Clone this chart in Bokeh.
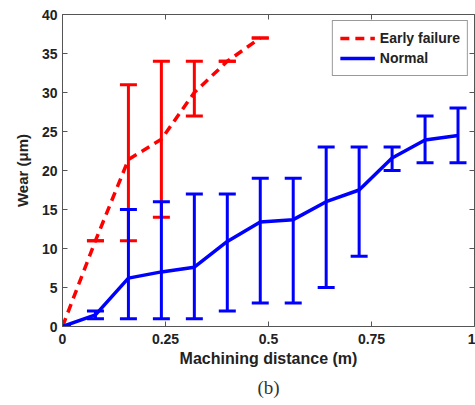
from bokeh.plotting import figure
from bokeh.models import (ColumnDataSource, Whisker, TeeHead, LinearAxis, Range1d,
                          FixedTicker, Legend, LegendItem, Title)
from bokeh.embed import file_html
from bokeh.resources import INLINE

# ---- data ----
early_x = [0, 0.08, 0.16, 0.24, 0.32, 0.40, 0.48]
early_y = [0, 11, 21.4, 24, 30, 34, 37]
early_lo = [0, 11, 11, 14, 27, 34, 37]
early_hi = [0, 11, 31, 34, 34, 34, 37]

normal_x = [0, 0.08, 0.16, 0.24, 0.32, 0.40, 0.48, 0.56, 0.64, 0.72, 0.80, 0.88, 0.96]
normal_y = [0, 1.5, 6.2, 7.0, 7.6, 10.9, 13.4, 13.7, 16.0, 17.5, 21.6, 23.9, 24.5]
normal_lo = [0, 1, 1, 1, 1, 2, 3, 3, 5, 9, 20, 21, 21]
normal_hi = [0, 2, 15, 16, 17, 17, 19, 19, 23, 23, 23, 27, 28]

x_ticks = [0, 0.25, 0.5, 0.75, 1]
x_tick_labels = {0: "0", 0.25: "0.25", 0.5: "0.5", 0.75: "0.75", 1: "1"}
y_ticks = [0, 5, 10, 15, 20, 25, 30, 35, 40]

RED = "#ff0000"
BLUE = "#0000ff"
FONT = "Liberation Sans"

p = figure(width=475, height=405, output_backend="svg", toolbar_location=None,
           x_range=Range1d(0, 1), y_range=Range1d(0, 40),
           min_border_left=62, min_border_right=1, min_border_top=14, min_border_bottom=79)
p.grid.visible = False
p.outline_line_color = None
p.background_fill_color = "white"
p.border_fill_color = "white"

def style_axis(ax):
    ax.major_tick_in = 5
    ax.major_tick_out = 0
    ax.minor_tick_line_color = None
    ax.axis_line_color = "#555555"
    ax.major_tick_line_color = "#555555"
    ax.major_label_text_font = FONT
    ax.major_label_text_font_style = "bold"
    ax.major_label_text_font_size = "14px"
    ax.major_label_text_color = "#222222"

p.xaxis.ticker = FixedTicker(ticks=x_ticks)
p.xaxis.major_label_overrides = x_tick_labels
p.yaxis.ticker = FixedTicker(ticks=y_ticks)
style_axis(p.xaxis[0])
style_axis(p.yaxis[0])
p.xaxis.major_label_standoff = 7
p.yaxis.major_label_standoff = 5
p.xaxis.axis_label = "Machining distance (m)"
p.yaxis.axis_label = "Wear (μm)"
p.xaxis.axis_label_text_font_size = "16px"
p.yaxis.axis_label_text_font_size = "15px"
for ax in (p.xaxis[0], p.yaxis[0]):
    ax.axis_label_text_font = FONT
    ax.axis_label_text_font_style = "bold"
    ax.axis_label_text_color = "#222222"
p.xaxis.axis_label_standoff = 3
p.yaxis.axis_label_standoff = 8

top = LinearAxis(ticker=FixedTicker(ticks=x_ticks))
style_axis(top)
top.major_label_overrides = {t: "" for t in x_ticks}
top.major_label_standoff = 0
right = LinearAxis(ticker=FixedTicker(ticks=y_ticks))
style_axis(right)
right.major_label_overrides = {t: "" for t in y_ticks}
right.major_label_standoff = 0
p.add_layout(top, "above")
p.add_layout(right, "right")

# ---- series ----
src_e = ColumnDataSource(dict(x=early_x, y=early_y, lo=early_lo, hi=early_hi))
src_n = ColumnDataSource(dict(x=normal_x, y=normal_y, lo=normal_lo, hi=normal_hi))

for src, col in ((src_e, RED), (src_n, BLUE)):
    w = Whisker(base="x", lower="lo", upper="hi", source=src,
                line_color=col, line_width=3,
                upper_head=TeeHead(size=17, line_color=col, line_width=3),
                lower_head=TeeHead(size=17, line_color=col, line_width=3))
    p.add_layout(w)

r_e = p.line("x", "y", source=src_e, line_color=RED, line_width=3.5, line_dash="9 6")
r_n = p.line("x", "y", source=src_n, line_color=BLUE, line_width=3.5)

legend = Legend(items=[LegendItem(label="Early failure", renderers=[r_e]),
                       LegendItem(label="Normal", renderers=[r_n])],
                location="top_right")
legend.margin = 6
legend.padding = 7
legend.spacing = 0
legend.glyph_width = 35
legend.glyph_height = 20
legend.label_height = 20
legend.label_standoff = 5
legend.label_text_font = FONT
legend.label_text_font_style = "bold"
legend.label_text_font_size = "14px"
legend.label_text_color = "#222222"
legend.border_line_color = "#333333"
legend.border_line_width = 1
legend.background_fill_alpha = 1
p.add_layout(legend, "center")

cap = Title(text="(b)", align="center", text_font="Liberation Serif",
            text_font_style="normal", text_font_size="19px", text_color="#333333",
            standoff=10)
p.add_layout(cap, "below")

open("out.html", "w").write(file_html(p, INLINE))
